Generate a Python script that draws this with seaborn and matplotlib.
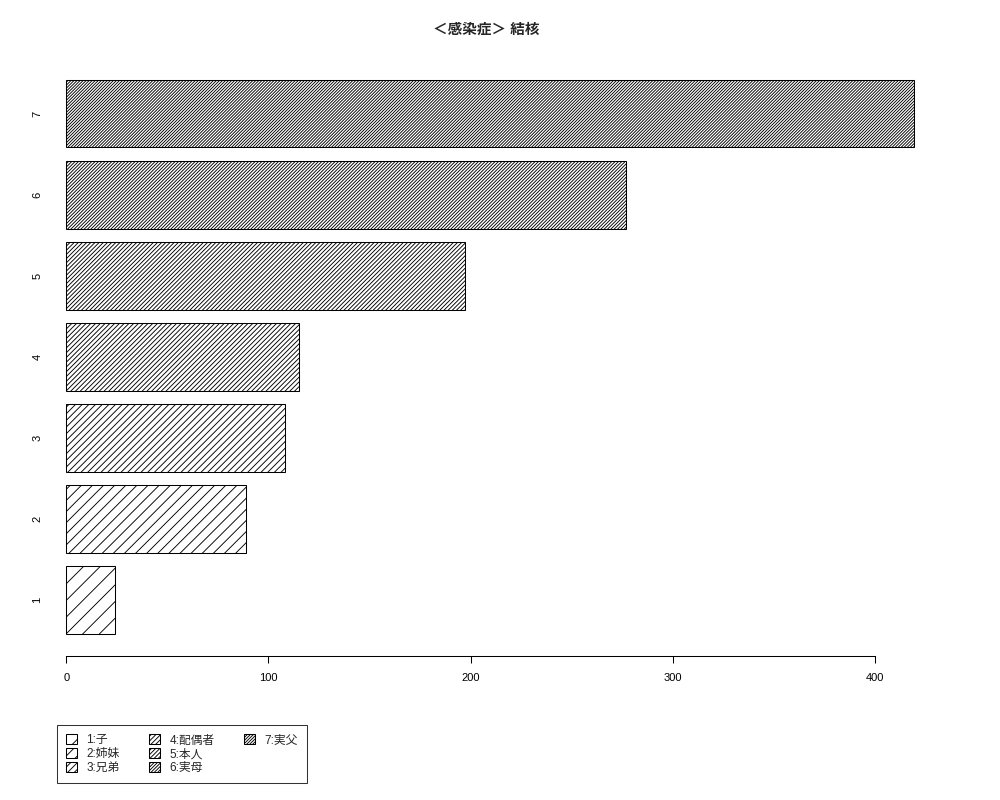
import matplotlib
matplotlib.use("Agg")
import matplotlib.pyplot as plt
from matplotlib.patches import Patch
import pandas as pd
import seaborn as sns

categories = ["1", "2", "3", "4", "5", "6", "7"]
counts = [24, 89, 108, 115, 197, 277, 419]
legend_labels = ["1:子", "2:姉妹", "3:兄弟", "4:配偶者", "5:本人", "6:実母", "7:実父"]
# sparse -> dense, roughly R density = 5, 10, ..., 35
hatches = ["//", "///", "/////", "///////", "////////", "//////////", "///////////"]
x_ticks = [0, 100, 200, 300, 400]
title = "＜感染症＞ 結核"

sns.set_theme(style="white")
plt.rcParams["font.family"] = ["Liberation Sans", "Noto Sans CJK JP", "DejaVu Sans"]
plt.rcParams["hatch.linewidth"] = 0.65
plt.rcParams["hatch.color"] = "black"

df = pd.DataFrame({"group": categories, "count": counts})
order = categories[::-1]  # 7 on top
hatch_of = dict(zip(categories, hatches))

fig = plt.figure(figsize=(10, 8), dpi=100)
ax = fig.add_axes([0.05, 0.18, 0.89, 0.74875])

sns.barplot(data=df, x="count", y="group", order=order, orient="h",
            color="white", saturation=1, width=0.833,
            edgecolor="black", linewidth=0.75, ax=ax)

for patch, cat in zip(ax.patches, order):
    patch.set_hatch(hatch_of[cat])
    patch.set_edgecolor("black")

ax.set_xlim(-8.06, 432.1)
ax.set_ylim(6.69, -0.70)
ax.set_xlabel("")
ax.set_ylabel("")

for side in ["top", "right", "left"]:
    ax.spines[side].set_visible(False)
ax.spines["bottom"].set_bounds(0, 400)
ax.spines["bottom"].set_color("black")
ax.spines["bottom"].set_linewidth(0.75)

ax.set_xticks(x_ticks)
ax.tick_params(axis="x", bottom=True, length=5, width=0.75, color="black",
               direction="out", pad=7.5, labelsize=8, labelcolor="black")
ax.tick_params(axis="y", left=False, length=0, pad=5.5, labelsize=8,
               labelcolor="black", labelrotation=90)
for lab in ax.get_yticklabels():
    lab.set_va("center")

# legend below the plot, filled column by column like R (3 + 3 + 1)
handles = [Patch(facecolor="white", edgecolor="black", hatch=h, linewidth=0.75)
           for h in hatches]
labels = list(legend_labels)
blank = Patch(facecolor="none", edgecolor="none", linewidth=0)
handles += [blank, blank]
labels += ["", ""]
leg = fig.legend(handles, labels, loc="upper left",
                 bbox_to_anchor=(0.057, 1 - 725 / 800), ncol=3,
                 frameon=True, fancybox=False, edgecolor="black",
                 fontsize=8.5, handlelength=0.9, handleheight=0.9,
                 handletextpad=0.8, columnspacing=2.5, labelspacing=0.15,
                 borderpad=0.8, borderaxespad=0)
leg.get_frame().set_linewidth(0.75)

fig.text(0.486, 1 - 30 / 800, title, ha="center", va="center",
         fontsize=10.5, fontweight="bold")

fig.savefig("out.png", dpi=100)
